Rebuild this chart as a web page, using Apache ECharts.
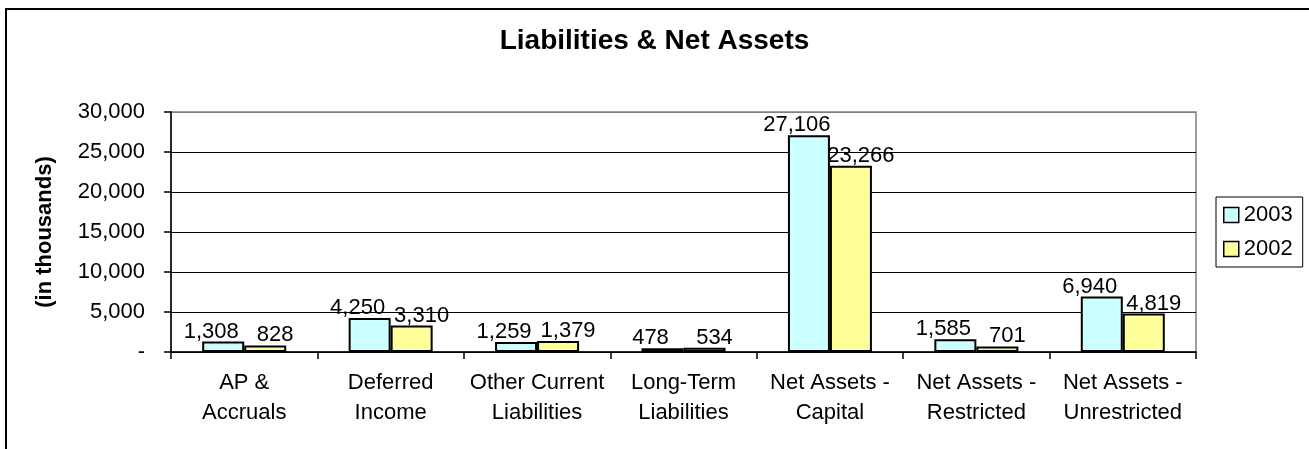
<!DOCTYPE html>
<html>
<head>
<meta charset="utf-8">
<script src="https://cdn.jsdelivr.net/npm/echarts@6/dist/echarts.min.js"></script>
<style>
html,body{margin:0;padding:0;background:#fff;}
#chart{width:1309px;height:449px;}
</style>
</head>
<body>
<div id="chart"></div>
<script>
var categories = ["AP &\nAccruals", "Deferred\nIncome", "Other Current\nLiabilities", "Long-Term\nLiabilities", "Net Assets -\nCapital", "Net Assets -\nRestricted", "Net Assets -\nUnrestricted"];
var values2003 = [1308, 4250, 1259, 478, 27106, 1585, 6940];
var values2002 = [828, 3310, 1379, 534, 23266, 701, 4819];
var seriesNames = ["2003", "2002"];

var FONT = "Liberation Sans, Arial, sans-serif";
function fmt(v){ return v === 0 ? "-" : v.toString().replace(/\B(?=(\d{3})+(?!\d))/g, ","); }

var chart = echarts.init(document.getElementById('chart'));
chart.setOption({
  backgroundColor: '#fff',
  animation: false,
  textStyle: { fontFamily: FONT, color: '#000' },
  title: {
    text: 'Liabilities & Net Assets',
    left: 'center',
    top: 27,
    padding: 0,
    textStyle: { fontFamily: FONT, fontSize: 28, fontWeight: 'bold', color: '#000', lineHeight: 28 }
  },
  graphic: [{
    type: 'rect',
    shape: { x: 6, y: 9, width: 1400, height: 500 },
    style: { fill: 'none', stroke: '#000', lineWidth: 2 },
    silent: true
  }],
  legend: {
    orient: 'vertical',
    left: 1216,
    top: 197,
    padding: [7, 10, 7, 7],
    itemGap: 12,
    itemWidth: 15,
    itemHeight: 15,
    borderColor: '#000',
    borderWidth: 1,
    icon: 'rect',
    itemStyle: { borderColor: '#000', borderWidth: 1.5 },
    textStyle: { fontFamily: FONT, fontSize: 22, color: '#000', lineHeight: 22 },
    data: seriesNames
  },
  grid: {
    left: 171, top: 112, width: 1025, height: 240,
    show: true, borderColor: '#808080', borderWidth: 1.5, backgroundColor: 'transparent'
  },
  xAxis: {
    type: 'category',
    data: categories,
    boundaryGap: true,
    axisLine: { lineStyle: { color: '#000', width: 1.5 } },
    axisTick: { show: true, length: 7, inside: false, lineStyle: { color: '#000', width: 1.5 } },
    axisLabel: { interval: 0, margin: 16, fontSize: 22, lineHeight: 30, color: '#000', fontFamily: FONT }
  },
  yAxis: {
    type: 'value',
    min: 0, max: 30000, interval: 5000,
    name: '(in thousands)',
    nameLocation: 'middle',
    nameGap: 115,
    nameRotate: 90,
    nameTextStyle: { fontFamily: FONT, fontSize: 22, fontWeight: 'bold', color: '#000' },
    axisLine: { show: true, lineStyle: { color: '#000', width: 1.5 } },
    axisTick: { show: true, length: 7, lineStyle: { color: '#000', width: 1.5 } },
    axisLabel: { margin: 26, fontSize: 22, color: '#000', fontFamily: FONT, formatter: fmt },
    splitLine: { show: true, lineStyle: { color: ['#000','#000','#000','#000','#000','#000','#808080'], width: 1.2 } }
  },
  series: [{
    name: seriesNames[0],
    type: 'bar',
    data: values2003,
    barWidth: 42,
    barGap: '0%',
    itemStyle: { color: '#CCFFFF', borderColor: '#000', borderWidth: 2 },
    label: { show: true, position: 'top', distance: -1, offset: [-12, 0], fontSize: 22, color: '#000', fontFamily: FONT, formatter: function(p){ return fmt(p.value); } }
  }, {
    name: seriesNames[1],
    type: 'bar',
    data: values2002,
    barWidth: 42,
    barGap: '0%',
    itemStyle: { color: '#FFFF99', borderColor: '#000', borderWidth: 2 },
    label: { show: true, position: 'top', distance: -1, offset: [10, 0], fontSize: 22, color: '#000', fontFamily: FONT, formatter: function(p){ return fmt(p.value); } }
  }]
});
</script>
</body>
</html>
